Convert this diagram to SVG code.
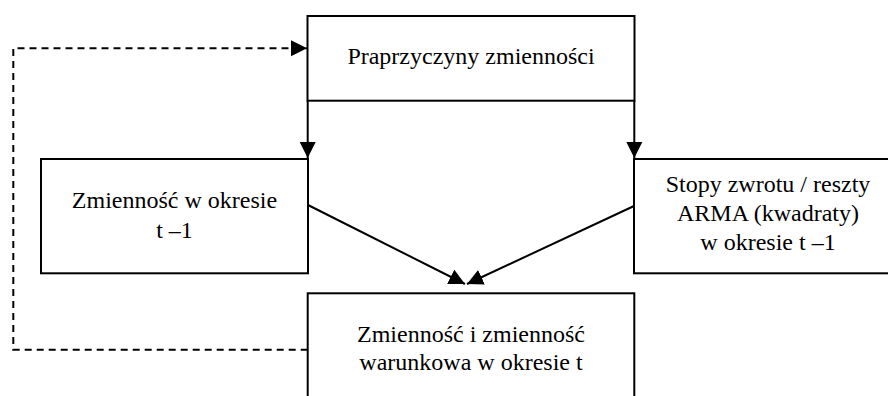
<svg xmlns="http://www.w3.org/2000/svg" width="888" height="396" viewBox="0 0 888 396">
<style>
.box{fill:#fff;stroke:#000;stroke-width:2}
.t{font-family:"Liberation Serif","Times New Roman",serif;font-size:24px;fill:#000;text-anchor:middle}
.c{fill:none;stroke:#000;stroke-width:2}
.d{stroke-dasharray:7 5}
</style>
<defs>
<marker id="ah" markerUnits="userSpaceOnUse" markerWidth="17" markerHeight="17" refX="16" refY="8.5" orient="auto" viewBox="0 0 17 17">
<path d="M0,0.5 L16,8.5 L0,16.5 z" fill="#000"/>
</marker>
</defs>
<rect width="888" height="396" fill="#fff"/>
<g id="n-praprzyczyny">
<rect class="box" x="307.5" y="16" width="327" height="84.7"/>
<text class="t" x="471" y="64">Praprzyczyny zmienności</text>
</g>
<g id="n-zmiennosc-t1">
<rect class="box" x="41" y="159" width="267" height="114.3"/>
<text class="t" x="174.5" y="208">Zmienność w okresie</text>
<text class="t" x="174.5" y="238">t –1</text>
</g>
<g id="n-stopy">
<rect class="box" x="634" y="159" width="270" height="114.3"/>
<text class="t" x="768" y="191.5">Stopy zwrotu / reszty</text>
<text class="t" x="768" y="220.5">ARMA (kwadraty)</text>
<text class="t" x="768" y="249.5">w okresie t –1</text>
</g>
<g id="n-zmiennosc-t">
<rect class="box" x="307.7" y="293.3" width="326.6" height="120"/>
<text class="t" x="471" y="341.5">Zmienność i zmienność</text>
<text class="t" x="471" y="370">warunkowa w okresie t</text>
</g>
<g id="connectors">
<path class="c" d="M307.7,100.7 V158" marker-end="url(#ah)"/>
<path class="c" d="M634.3,100.7 V158" marker-end="url(#ah)"/>
<path class="c" d="M308,205 L465,284" marker-end="url(#ah)"/>
<path class="c" d="M634,206 L467,284" marker-end="url(#ah)"/>
<path class="c d" d="M307.7,349.7 H13.3 V48.3 H307" marker-end="url(#ah)"/>
</g>
</svg>
